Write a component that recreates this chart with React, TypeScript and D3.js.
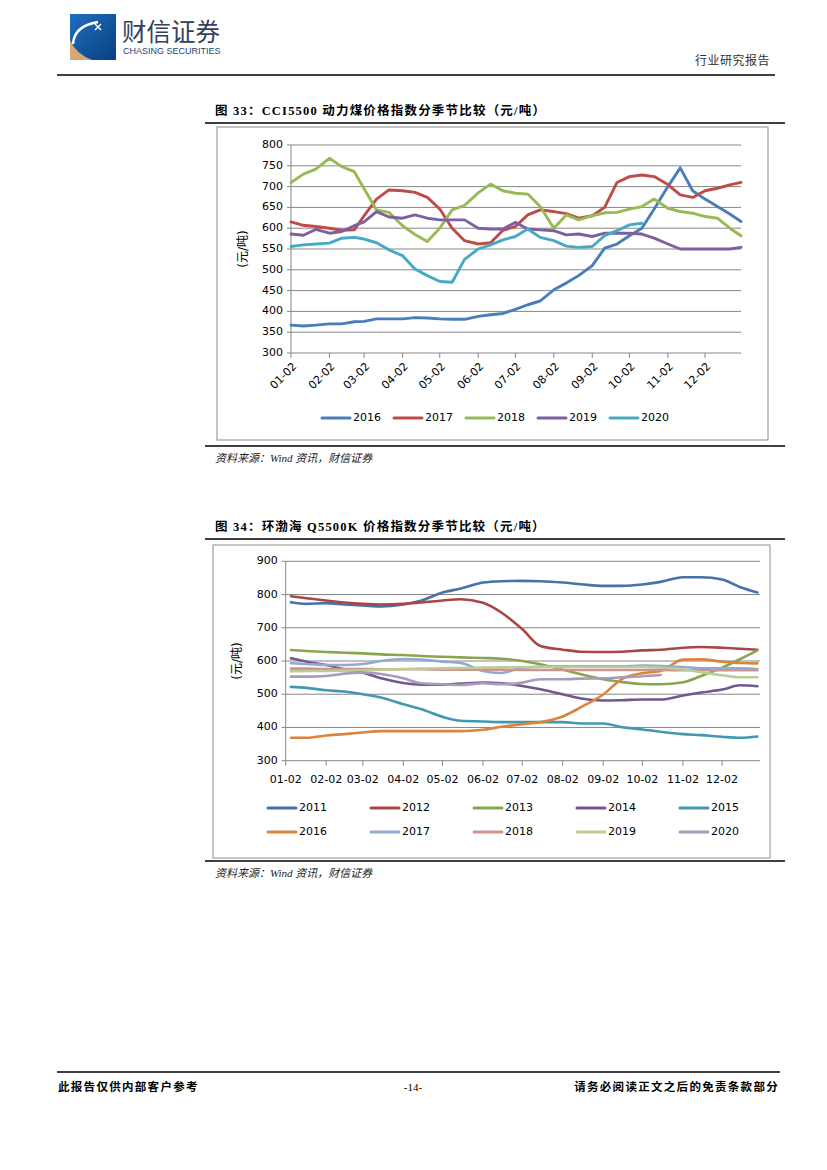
import * as d3 from "d3";

// CCI5500 seasonal (chart 33), sampled ~every 10 days
const cciDates = [
  "01-02", "01-12", "01-22", "02-02", "02-12", "02-22", "03-02", "03-12", "03-22",
  "04-02", "04-12", "04-22", "05-02", "05-12", "05-22", "06-02", "06-12", "06-22",
  "07-02", "07-12", "07-22", "08-02", "08-12", "08-22", "09-02", "09-12", "09-22",
  "10-02", "10-12", "10-22", "11-02", "11-12", "11-22", "12-02", "12-12", "12-22", "12-31",
];
const cciYears = ["2016", "2017", "2018", "2019", "2020"];
const cci2016 = [367, 365, 367, 370, 370, 375, 376, 382, 382, 382, 385, 384, 382, 381, 381, 388, 392, 395, 405, 416, 425, 452, 468, 486, 510, 552, 562, 582, 600, 646, 700, 745, 690, 670, 652, 634, 616];
const cci2017 = [615, 607, 604, 600, 595, 596, 630, 670, 692, 690, 686, 674, 646, 600, 570, 562, 565, 595, 604, 632, 644, 640, 635, 624, 630, 650, 710, 724, 728, 724, 705, 680, 674, 690, 696, 704, 710];
const cci2018 = [710, 730, 742, 768, 748, 736, 695, 644, 638, 606, 585, 568, 600, 644, 655, 685, 706, 690, 684, 682, 652, 600, 632, 620, 630, 637, 638, 646, 652, 670, 648, 640, 636, 628, 624, 600, 582];
const cci2019 = [586, 583, 597, 588, 592, 606, 615, 640, 627, 624, 632, 624, 620, 620, 620, 600, 598, 598, 614, 598, 596, 594, 584, 586, 580, 588, 588, 588, 586, 576, 562, 550, 550, 550, 550, 550, 554];
const cci2020 = [556, 560, 562, 564, 576, 578, 574, 565, 548, 534, 502, 486, 472, 470, 525, 550, 560, 572, 580, 598, 578, 570, 557, 554, 556, 582, 594, 608, 612, null, null, null, null, null, null, null, null];
const cciTicks = [300, 350, 400, 450, 500, 550, 600, 650, 700, 750, 800];

// Bohai-Rim Q5500K seasonal (chart 34), sampled twice a month
const bohaiDates = [
  "01-06", "01-18", "02-02", "02-16", "03-02", "03-16", "04-02", "04-16", "05-02",
  "05-16", "06-02", "06-16", "07-02", "07-16", "08-02", "08-16", "09-02", "09-16",
  "10-02", "10-16", "11-02", "11-16", "12-02", "12-16", "12-29",
];
const bohaiYears = ["2011", "2012", "2013", "2014", "2015", "2016", "2017", "2018", "2019", "2020"];
const bh2011 = [777, 772, 774, 770, 767, 764, 770, 782, 806, 818, 836, 840, 841, 840, 836, 831, 826, 826, 830, 838, 852, 852, 845, 822, 806];
const bh2012 = [795, 789, 782, 776, 772, 770, 772, 776, 782, 786, 775, 746, 696, 645, 634, 628, 627, 628, 632, 634, 640, 642, 640, 637, 634];
const bh2013 = [633, 630, 627, 625, 623, 620, 618, 615, 613, 611, 609, 607, 600, 590, 574, 560, 545, 537, 531, 530, 536, 555, 580, 606, 632];
const bh2014 = [608, 598, 588, 575, 565, 548, 534, 529, 529, 532, 535, 533, 525, 515, 500, 487, 481, 482, 484, 484, 496, 505, 514, 527, 524];
const bh2015 = [522, 519, 512, 508, 500, 490, 470, 455, 432, 420, 418, 416, 416, 416, 416, 412, 412, 401, 394, 387, 380, 377, 372, 369, 373];
const bh2016 = [369, 369, 376, 380, 385, 389, 389, 389, 389, 389, 393, 402, 410, 416, 433, 461, 499, 545, 563, 570, 604, 605, 598, 594, 593];
const bh2017 = [593, 591, 588, 588, 591, 600, 606, 604, 598, 594, 570, 564, 580, 583, 584, 584, 584, 584, 586, 585, 582, 578, 578, 578, 576];
const bh2018 = [577, 577, 576, 576, 576, 575, 575, 575, 574, 574, 574, 574, 573, 573, 573, 573, 573, 573, 573, 573, 572, 572, 572, 572, 572];
const bh2019 = [569, 570, 570, 571, 572, 574, 576, 577, 578, 579, 580, 581, 581, 582, 582, 582, 582, 582, 582, 580, 575, 566, 557, 551, 551];
const bh2020 = [553, 553, 555, 562, 565, 561, 548, 533, 530, 528, 533, 530, 535, 545, 545, 547, 548, 551, 554, 558, null, null, null, null, null];
const bohaiTicks = [300, 400, 500, 600, 700, 800, 900];

const monthTicks = ["01-02", "02-02", "03-02", "04-02", "05-02", "06-02", "07-02", "08-02", "09-02", "10-02", "11-02", "12-02"];

const cciColors = ["#4A7EBB", "#BE4B48", "#98B954", "#7D60A0", "#46AAC5"];
const bohaiColors = ["#4572A7", "#AA4643", "#89A54E", "#71588F", "#4198AF", "#DB843D", "#93A9CF", "#D19392", "#B9CD96", "#A99BBD"];

const parseDay = (s: string) => {
  const [m, d] = s.split("-").map(Number);
  return new Date(2019, m - 1, d);
};

const AXIS_FONT = "'DejaVu Sans', 'Noto Sans CJK SC', sans-serif";
const CJK_FONT = "'Liberation Serif', 'Noto Sans CJK SC', serif";

type Series = { name: string; color: string; values: (number | null)[] };

type ChartProps = {
  title: string;
  titleY: number;
  frame: { x: number; y: number; w: number; h: number };
  plot: { left: number; right: number; top: number; bottom: number };
  dates: string[];
  series: Series[];
  yTicks: number[];
  rotateLabels: boolean;
  smooth: boolean;
  lineWidth: number;
  legend: { x0: number; dx: number; y0: number; dy: number; cols: number };
  ruleY: number;
  sourceY: number;
};

function SeasonChart({
  title,
  titleY,
  frame,
  plot,
  dates,
  series,
  yTicks,
  rotateLabels,
  smooth,
  lineWidth,
  legend,
  ruleY,
  sourceY,
}: ChartProps) {
  const x = d3
    .scaleTime()
    .domain([parseDay("01-02"), parseDay("12-31")])
    .range([plot.left, plot.right]);
  const y = d3
    .scaleLinear()
    .domain([yTicks[0], yTicks[yTicks.length - 1]])
    .range([plot.bottom, plot.top]);

  const parsed = dates.map(parseDay);
  const line = d3
    .line<[Date, number | null]>()
    .defined((d) => d[1] != null)
    .x((d) => x(d[0]))
    .y((d) => y(d[1] as number))
    .curve(smooth ? d3.curveMonotoneX : d3.curveLinear);

  return (
    <g>
      {/* Title and rules */}
      <text x={215} y={titleY} fontFamily={CJK_FONT} fontWeight="bold" fontSize={12.5} letterSpacing={1.2} fill="#000">
        {title}
      </text>
      <line x1={205} x2={785} y1={titleY + 8} y2={titleY + 8} stroke="#000" strokeWidth={1.5} />
      <rect x={frame.x} y={frame.y} width={frame.w} height={frame.h} fill="#fff" stroke="#8c8c8c" strokeWidth={1} />
      <line x1={205} x2={785} y1={ruleY} y2={ruleY} stroke="#000" strokeWidth={1.5} />
      <text x={215} y={sourceY} fontFamily={CJK_FONT} fontStyle="italic" fontSize={11} fill="#222">
        资料来源：Wind 资讯，财信证券
      </text>

      {/* Grid + y axis */}
      {yTicks.map((t) => (
        <g key={t}>
          <line x1={plot.left} x2={plot.right} y1={y(t)} y2={y(t)} stroke="#868686" strokeWidth={1} />
          <line x1={plot.left - 4} x2={plot.left} y1={y(t)} y2={y(t)} stroke="#868686" strokeWidth={1} />
          <text
            x={plot.left - 8}
            y={y(t)}
            textAnchor="end"
            dominantBaseline="middle"
            fontFamily={AXIS_FONT}
            fontSize={11}
            fill="#000"
          >
            {t}
          </text>
        </g>
      ))}
      <line x1={plot.left} x2={plot.left} y1={plot.top} y2={plot.bottom} stroke="#868686" strokeWidth={1} />
      <text
        transform={`translate(${plot.left - 48}, ${(plot.top + plot.bottom) / 2}) rotate(-90)`}
        textAnchor="middle"
        dominantBaseline="middle"
        fontFamily={AXIS_FONT}
        fontSize={12}
        fill="#000"
      >
        (元/吨)
      </text>

      {/* x axis */}
      {monthTicks.map((m) => {
        const tx = x(parseDay(m));
        return (
          <g key={m}>
            <line x1={tx} x2={tx} y1={plot.bottom} y2={plot.bottom + 5} stroke="#868686" strokeWidth={1} />
            {rotateLabels ? (
              <text
                transform={`translate(${tx + 4}, ${plot.bottom + 12}) rotate(-45)`}
                textAnchor="end"
                dominantBaseline="middle"
                fontFamily={AXIS_FONT}
                fontSize={11}
                fill="#000"
              >
                {m}
              </text>
            ) : (
              <text x={tx} y={plot.bottom + 22} textAnchor="middle" fontFamily={AXIS_FONT} fontSize={11} fill="#000">
                {m}
              </text>
            )}
          </g>
        );
      })}

      {/* Series */}
      {series.map((s) => (
        <path
          key={s.name}
          d={line(parsed.map((d, i) => [d, s.values[i]] as [Date, number | null])) ?? ""}
          fill="none"
          stroke={s.color}
          strokeWidth={lineWidth}
          strokeLinejoin="round"
          strokeLinecap="round"
        />
      ))}

      {/* Legend */}
      {series.map((s, i) => {
        const lx = legend.x0 + (i % legend.cols) * legend.dx;
        const ly = legend.y0 + Math.floor(i / legend.cols) * legend.dy;
        return (
          <g key={s.name}>
            <line x1={lx} x2={lx + 28} y1={ly} y2={ly} stroke={s.color} strokeWidth={3} strokeLinecap="round" />
            <text x={lx + 31} y={ly} dominantBaseline="middle" fontFamily={AXIS_FONT} fontSize={11} fill="#000">
              {s.name}
            </text>
          </g>
        );
      })}
    </g>
  );
}

function Header() {
  return (
    <g>
      <defs>
        <linearGradient id="logoBlue" x1="0" y1="0" x2="1" y2="1">
          <stop offset="0" stopColor="#1f6fc0" />
          <stop offset="1" stopColor="#0a3f80" />
        </linearGradient>
      </defs>
      <rect x={70} y={14} width={46} height={46} fill="url(#logoBlue)" />
      <path d="M70,40 Q76,54 92,60 L70,60 Z" fill="#d8a878" />
      <path d="M73,44 Q74,26 98,22" fill="none" stroke="#fff" strokeWidth={2.5} />
      <path d="M95,24 L101,30 M101,24 L95,30" stroke="#fff" strokeWidth={1.5} />
      <text x={122} y={41} fontFamily="'Noto Sans CJK SC', sans-serif" fontSize={24.5} fill="#34405a">
        财信证券
      </text>
      <text x={123} y={54} fontFamily="'Liberation Sans', sans-serif" fontSize={9} fill="#1e3f72">
        CHASING SECURITIES
      </text>
      <text x={770} y={65} textAnchor="end" fontFamily={CJK_FONT} fontSize={12} letterSpacing={0.5} fill="#333">
        行业研究报告
      </text>
      <line x1={57} x2={775} y1={75} y2={75} stroke="#000" strokeWidth={1.5} />
    </g>
  );
}

function Footer() {
  return (
    <g>
      <line x1={57} x2={780} y1={1072} y2={1072} stroke="#000" strokeWidth={1.5} />
      <text x={58} y={1091} fontFamily={CJK_FONT} fontWeight="bold" fontSize={11.5} letterSpacing={1.3} fill="#000">
        此报告仅供内部客户参考
      </text>
      <text x={413} y={1091} textAnchor="middle" fontFamily="'Liberation Serif', serif" fontSize={11} fill="#000">
        -14-
      </text>
      <text x={779} y={1091} textAnchor="end" fontFamily={CJK_FONT} fontWeight="bold" fontSize={11.5} letterSpacing={1.3} fill="#000">
        请务必阅读正文之后的免责条款部分
      </text>
    </g>
  );
}

export default function App() {
  const cciValues = [cci2016, cci2017, cci2018, cci2019, cci2020];
  const cciSeries: Series[] = cciYears.map((name, i) => ({ name, color: cciColors[i], values: cciValues[i] }));

  const bohaiValues = [bh2011, bh2012, bh2013, bh2014, bh2015, bh2016, bh2017, bh2018, bh2019, bh2020];
  const bohaiSeries: Series[] = bohaiYears.map((name, i) => ({ name, color: bohaiColors[i], values: bohaiValues[i] }));

  return (
    <svg
      width={827}
      height={1170}
      viewBox="0 0 827 1170"
      style={{ position: "absolute", left: 0, top: 0, background: "#fff" }}
    >
      <rect width={827} height={1170} fill="#fff" />
      <Header />
      <SeasonChart
        title="图 33：CCI5500 动力煤价格指数分季节比较（元/吨）"
        titleY={115}
        frame={{ x: 217, y: 127, w: 551, h: 313 }}
        plot={{ left: 291, right: 741, top: 145, bottom: 353 }}
        dates={cciDates}
        series={cciSeries}
        yTicks={cciTicks}
        rotateLabels={true}
        smooth={false}
        lineWidth={2.9}
        legend={{ x0: 322, dx: 72, y0: 418, dy: 0, cols: 5 }}
        ruleY={446}
        sourceY={462}
      />
      <SeasonChart
        title="图 34：环渤海 Q5500K 价格指数分季节比较（元/吨）"
        titleY={531}
        frame={{ x: 213, y: 545, w: 557, h: 313 }}
        plot={{ left: 285.7, right: 760, top: 561.3, bottom: 760.7 }}
        dates={bohaiDates}
        series={bohaiSeries}
        yTicks={bohaiTicks}
        rotateLabels={false}
        smooth={true}
        lineWidth={2.6}
        legend={{ x0: 268, dx: 103, y0: 808, dy: 24, cols: 5 }}
        ruleY={861}
        sourceY={877}
      />
      <Footer />
    </svg>
  );
}
